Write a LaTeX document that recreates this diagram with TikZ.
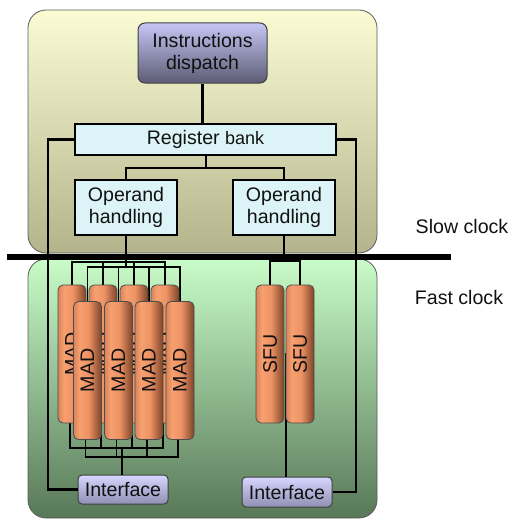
\documentclass[tikz,border=0pt]{standalone}
\usepackage{fontspec}
\usepackage{graphicx}
\setmainfont{Liberation Sans}
\usetikzlibrary{calc}
\definecolor{topA}{HTML}{FCFCD4}
\definecolor{topB}{HTML}{B4B48C}
\definecolor{botA}{HTML}{C8FCC8}
\definecolor{botB}{HTML}{587858}
\definecolor{panelEdge}{HTML}{5A5A5A}
\definecolor{dispA}{HTML}{C6C6F6}
\definecolor{dispB}{HTML}{5C5C74}
\definecolor{intA}{HTML}{D6D6FF}
\definecolor{intB}{HTML}{9090B4}
\definecolor{regFill}{HTML}{DCF4F8}
\definecolor{cylA}{HTML}{D8845A}
\definecolor{cylB}{HTML}{F8A070}
\definecolor{cylC}{HTML}{EC9264}
\definecolor{cylD}{HTML}{7C4428}
\definecolor{txt}{HTML}{111111}
\pgfdeclarehorizontalshading{cyl}{100bp}{color(0bp)=(cylA); color(25bp)=(cylA); color(36bp)=(cylB); color(52bp)=(cylC); color(75bp)=(cylD); color(100bp)=(cylD)}
\tikzset{
  panel/.style={draw=panelEdge, line width=0.8pt, rounded corners=18pt},
  dispbox/.style={draw=black!75, line width=1pt, rounded corners=7pt, top color=dispA, bottom color=dispB,
     minimum width=129pt, minimum height=60pt, align=center, text=txt, inner sep=0pt},
  bluebox/.style={draw=black, line width=1.6pt, fill=regFill, align=center, text=txt, inner sep=0pt},
  intbox/.style={draw=black!75, line width=1pt, rounded corners=4pt, top color=intA, bottom color=intB,
     minimum width=90pt, minimum height=29pt, text=txt, inner sep=0pt},
  cylbox/.style={draw=black!70, line width=0.8pt, rounded corners=5pt, shading=cyl,
     minimum width=28pt, minimum height=138pt, text=txt, inner sep=0pt},
  wire/.style={draw=black, line width=2.4pt},
  thinwire/.style={draw=black, line width=1.9pt},
  lbl/.style={text=txt, inner sep=0pt},
  every node/.style={font=\fontsize{19.6}{22}\selectfont}
}
\begin{document}
\begin{tikzpicture}[x=1pt,y=-1pt]
\useasboundingbox (0,0) rectangle (508,519);
% panels
\path[panel, top color=topA, bottom color=topB] (28,10) rectangle (377,253);
\path[panel, top color=botA, bottom color=botB] (28,259) rectangle (377,518);

% nodes (positions)
\node[dispbox] (disp) at (202.5,53) {Instructions\\dispatch};
\node[bluebox, minimum width=261pt, minimum height=31pt] (reg) at (205.5,139.5)
  {Register {\fontsize{18}{20}\selectfont bank}};
\node[bluebox, minimum width=102pt, minimum height=55pt] (op1) at (126,207.5) {Operand\\handling};
\node[bluebox, minimum width=102pt, minimum height=55pt] (op2) at (284,207.5) {Operand\\handling};
\node[intbox] (int1) at (123,489.5) {Interface};
\node[intbox, minimum height=30pt] (int2) at (287,492) {Interface};

\coordinate (tb) at (0,262);
\coordinate (tf) at (0,267);
\coordinate (bb) at (0,448);
\coordinate (bf) at (0,457);
\coordinate (st) at (0,261);

% connectors among upper boxes
\draw[wire] (disp.south) -- (disp.south |- reg.north);
\coordinate (rs) at (206,168);
\draw[wire] (reg.south -| rs) -- (rs);
\draw[wire] (op1.north) |- (rs) -| (op2.north);
\draw[wire] (reg.west) -- ++(-26,0) |- (int1.west);
\draw[wire] (reg.east) -- ++(19,0) |- (int2.east);

% cylinder coordinates (nodes drawn after wires)
\path (72,354) coordinate (cm1) (103,354) coordinate (cm2) (134,354) coordinate (cm3) (165,354) coordinate (cm4);
\path (87.5,370.5) coordinate (cf1) (118.5,370.5) coordinate (cf2) (149,370.5) coordinate (cf3) (180,370.5) coordinate (cf4);

% MAD wiring (top)
\draw[thinwire] (op1.south) -- (op1.south |- tf);
\draw[thinwire] (cm1 |- 0,285) |- (tb -| cm4) -- (cm4 |- 0,285);
\foreach \c in {cm2,cm3} \draw[thinwire] (\c |- 0,285) -- (\c |- tb);
\draw[thinwire] (cf1 |- 0,302) |- (tf -| cf4) -- (cf4 |- 0,302);
\foreach \c in {cf2,cf3} \draw[thinwire] (\c |- 0,302) -- (\c |- tf);
% MAD wiring (bottom)
\draw[thinwire] ($(cm1 |- 0,423)+(-2,0)$) |- ($(bb -| cm4)+(-2,0)$) -- ($(cm4 |- 0,423)+(-2,0)$);
\foreach \c in {cm2,cm3} \draw[thinwire] ($(\c |- 0,423)+(-2,0)$) -- ($(\c |- bb)+(-2,0)$);
\draw[thinwire] ($(cf1 |- 0,439)+(-2,0)$) |- ($(bf -| cf4)+(-2,0)$) -- ($(cf4 |- 0,439)+(-2,0)$);
\foreach \c in {cf2,cf3} \draw[thinwire] ($(\c |- 0,439)+(-2,0)$) -- ($(\c |- bf)+(-2,0)$);
\draw[thinwire] (int1.north -| 122,0) -- (bb -| 122,0);

% SFU wiring
\draw[thinwire] (op2.south) -- (op2.south |- st);
\draw[thinwire] (270,285) |- (st -| 300,0) -- (300,285);
\draw[thinwire] (286,353) -- (int2.north -| 286,0);

% cylinders
\foreach \i in {1,...,4} \node[cylbox] (m\i) at (cm\i) {\rotatebox{90}{MAD}};
\foreach \i in {1,...,4} \node[cylbox] (f\i) at (cf\i) {\rotatebox{90}{MAD}};
\node[cylbox] (s1) at (270,354) {\rotatebox{90}{SFU}};
\node[cylbox] (s2) at (300,354) {\rotatebox{90}{SFU}};

% clock separator
\draw[line width=5.5pt] (7,257) -- (451,257);
\node[lbl] (slow) at (462,226) {Slow clock};
\node[lbl] (fast) at (459,297) {Fast clock};
\end{tikzpicture}
\end{document}
